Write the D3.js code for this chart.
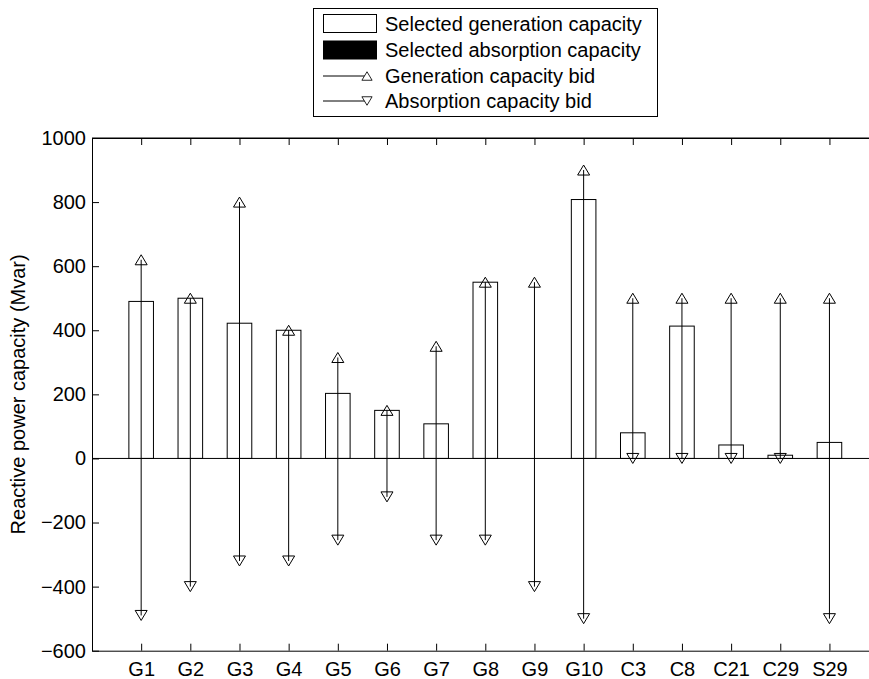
<!DOCTYPE html>
<html>
<head>
<meta charset="utf-8">
<script src="https://cdn.jsdelivr.net/npm/d3@7"></script>
<style>
  body { margin: 0; background: #fff; }
  svg text { font-family: "Liberation Sans", Arial, sans-serif; }
</style>
</head>
<body>
<script>
// categories and values
var units = ["G1","G2","G3","G4","G5","G6","G7","G8","G9","G10","C3","C8","C21","C29","S29"];
var selGen = [490, 500, 422, 400, 203, 150, 108, 550, 0, 808, 80, 413, 42, 10, 50];
var selAbs = [0, 0, 0, 0, 0, 0, 0, 0, 0, 0, 0, 0, 0, 0, 0];
var genBid = [620, 500, 800, 400, 315, 150, 350, 550, 550, 900, 500, 500, 500, 500, 500];
var absBid = [-490, -400, -320, -320, -255, -120, -255, -255, -400, -500, 0, 0, 0, 0, -500];
var yTicks = [-600, -400, -200, 0, 200, 400, 600, 800, 1000];
var legendLabels = ["Selected generation capacity", "Selected absorption capacity",
                    "Generation capacity bid", "Absorption capacity bid"];

var w = 869, h = 679;
var fs = "20px";
var svg = d3.select("body").append("svg").attr("width", w).attr("height", h);

var x = d3.scaleLinear().domain([0, 16]).range([92, 878.6]);
var y = d3.scaleLinear().domain([-600, 1000]).range([650.7, 138]);
var bw = x(0.5) - x(0);

var rows = units.map(function(u, i) {
  return {u: u, i: i + 1, gen: selGen[i], abs: selAbs[i], gb: genBid[i], ab: absBid[i]};
});

// axes box (right edge falls outside the picture)
svg.append("line").attr("x1", x(0)).attr("x2", x(16)).attr("y1", y(1000)).attr("y2", y(1000))
  .attr("stroke", "#000");

var ya = svg.append("g").attr("transform", "translate(" + x(0) + ",0)")
  .call(d3.axisLeft(y).tickValues(yTicks).tickSizeInner(-7).tickSizeOuter(0).tickPadding(6)
    .tickFormat(function(d) { return d < 0 ? "\u2212" + Math.abs(d) : d; }));
var xa = svg.append("g").attr("transform", "translate(0," + y(-600) + ")")
  .call(d3.axisBottom(x).tickValues(d3.range(1, 16)).tickSizeInner(-7).tickSizeOuter(0).tickPadding(11)
    .tickFormat(function(d) { return units[d - 1]; }));
var xt = svg.append("g").attr("transform", "translate(0," + y(1000) + ")")
  .call(d3.axisTop(x).tickValues(d3.range(1, 16)).tickSizeInner(-7).tickSizeOuter(0).tickFormat(""));
[ya, xa, xt].forEach(function(g) {
  g.select(".domain").attr("stroke", "#000");
  g.selectAll("line").attr("stroke", "#000");
  g.selectAll("text").attr("font-size", fs).attr("fill", "#000")
    .attr("font-family", "Liberation Sans, Arial, sans-serif");
});

svg.append("text")
  .attr("transform", "translate(25," + ((y(1000) + y(-600)) / 2) + ") rotate(-90)")
  .attr("text-anchor", "middle")
  .attr("font-size", fs)
  .text("Reactive power capacity (Mvar)");

// bars
svg.selectAll("rect.gen").data(rows).enter().append("rect").attr("class", "gen")
  .attr("x", function(d) { return x(d.i) - bw / 2; })
  .attr("y", function(d) { return y(d.gen); })
  .attr("width", bw)
  .attr("height", function(d) { return y(0) - y(d.gen); })
  .attr("fill", "#fff").attr("stroke", "#000");
svg.selectAll("rect.abs").data(rows).enter().append("rect").attr("class", "abs")
  .attr("x", function(d) { return x(d.i) - bw / 2; })
  .attr("y", function(d) { return y(0); })
  .attr("width", bw)
  .attr("height", function(d) { return y(d.abs) - y(0); })
  .attr("fill", "#000").attr("stroke", "#000");

// zero line
svg.append("line").attr("x1", x(0)).attr("x2", x(16)).attr("y1", y(0)).attr("y2", y(0))
  .attr("stroke", "#000");

// bid lines
svg.selectAll("line.bid").data(rows).enter().append("line").attr("class", "bid")
  .attr("x1", function(d) { return x(d.i); }).attr("x2", function(d) { return x(d.i); })
  .attr("y1", function(d) { return y(d.ab); }).attr("y2", function(d) { return y(d.gb); })
  .attr("stroke", "#000");

function downPath() {
  return "M0,5L-6,-5L6,-5Z";
}
function upPath() {
  return "M0,-5L6,5L-6,5Z";
}
svg.selectAll("path.gb").data(rows).enter().append("path").attr("class", "gb")
  .attr("d", upPath())
  .attr("transform", function(d) { return "translate(" + x(d.i) + "," + y(d.gb) + ")"; })
  .attr("fill", "none").attr("stroke", "#000");
svg.selectAll("path.ab").data(rows).enter().append("path").attr("class", "ab")
  .attr("d", downPath())
  .attr("transform", function(d) { return "translate(" + x(d.i) + "," + y(d.ab) + ")"; })
  .attr("fill", "none").attr("stroke", "#000");

// legend
var lg = svg.append("g");
lg.append("rect").attr("x", 313.5).attr("y", 8.5).attr("width", 344).attr("height", 108)
  .attr("fill", "#fff").attr("stroke", "#000");
var rowY = [23.5, 50, 76, 101];
legendLabels.forEach(function(t, k) {
  var cy = rowY[k];
  if (k === 0 || k === 1) {
    lg.append("rect").attr("x", 323.5).attr("y", cy - 9).attr("width", 53).attr("height", 18)
      .attr("fill", k === 0 ? "#fff" : "#000").attr("stroke", "#000");
  } else {
    lg.append("line").attr("x1", 323).attr("x2", 367).attr("y1", cy).attr("y2", cy).attr("stroke", "#000");
    lg.append("path").attr("d", k === 2 ? upPath() : downPath())
      .attr("transform", "translate(367," + cy + ") scale(0.85)")
      .attr("fill", "#fff").attr("stroke", "#000");
  }
  lg.append("text").attr("x", 385).attr("y", cy).attr("dy", "0.35em")
    .attr("font-size", fs).text(t);
});
</script>
</body>
</html>
